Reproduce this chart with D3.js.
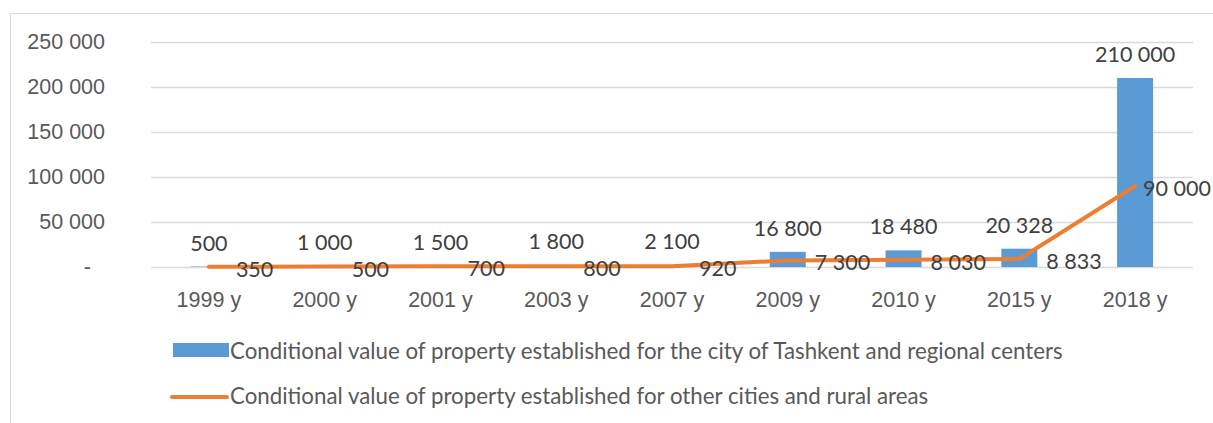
<!DOCTYPE html>
<html lang="en">
<head>
<meta charset="UTF-8">
<title>Conditional value of property</title>
<style>
    body { margin: 0; background: #fff; }
    svg { display: block; font-family: Lato, "Open Sans", sans-serif; }
    .grid line { stroke: #d9d9d9; stroke-width: 1.5; }
    .grid path { display: none; }
    .axis text { fill: #595959; font-size: 21.5px; }
    .axis path, .axis line { display: none; }
    .lbl { fill: #404040; font-size: 21.5px; }
    .legend text { fill: #595959; font-size: 22.3px; }
</style>
</head>
<body>
<svg></svg>
<script src="https://d3js.org/d3.v7.min.js"></script>
<script>

const years = ['1999 y', '2000 y', '2001 y', '2003 y', '2007 y', '2009 y', '2010 y', '2015 y', '2018 y'];
const tashkent = [500, 1000, 1500, 1800, 2100, 16800, 18480, 20328, 210000];
const otherCities = [350, 500, 700, 800, 920, 7300, 8030, 8833, 90000];
const yTicks = [0, 50000, 100000, 150000, 200000, 250000];
const seriesNames = [
    'Conditional value of property established for the city of Tashkent and regional centers',
    'Conditional value of property established for other cities and rural areas'
];

const W = 1213, H = 423;
const svg = d3.select('svg').attr('width', W).attr('height', H);

// chart frame
svg.append('rect')
    .attr('x', 10.5).attr('y', 13.5)
    .attr('width', W).attr('height', H)
    .attr('fill', 'none').attr('stroke', '#d9d9d9');

const plot = { left: 151, right: 1193, top: 42, bottom: 267 };

const x = d3.scaleBand().domain(years).range([plot.left, plot.right]);
const y = d3.scaleLinear().domain([0, 250000]).range([plot.bottom, plot.top]);

const fmt = v => v === 0 ? '-' : d3.format(',')(v).replace(/,/g, ' ');

svg.append('g')
    .attr('class', 'grid')
    .attr('transform', `translate(${plot.left},0)`)
    .call(d3.axisLeft(y).tickValues(yTicks).tickFormat('').tickSize(-(plot.right - plot.left)));

svg.append('g')
    .attr('class', 'axis')
    .attr('transform', `translate(${plot.left},0)`)
    .call(d3.axisLeft(y).tickValues(yTicks).tickFormat(fmt).tickPadding(40))
    .selectAll('text')
    .attr('dx', d => d === 0 ? -14 : 0);

svg.append('g')
    .attr('class', 'axis')
    .attr('transform', `translate(0,${plot.bottom})`)
    .call(d3.axisBottom(x).tickSizeOuter(0).tickPadding(19));

const barW = 36;
const cx = d => x(d) + x.bandwidth() / 2;

svg.selectAll('.bar')
    .data(tashkent)
    .join('rect')
    .attr('class', 'bar')
    .attr('x', (d, i) => cx(years[i]) - barW / 2)
    .attr('y', d => y(d))
    .attr('width', barW)
    .attr('height', d => y(0) - y(d))
    .attr('fill', '#5b9bd5');

const line = d3.line()
    .x((d, i) => cx(years[i]))
    .y(d => y(d));

svg.append('path')
    .datum(otherCities)
    .attr('d', line)
    .attr('fill', 'none')
    .attr('stroke', '#ed7d31')
    .attr('stroke-width', 4)
    .attr('stroke-linecap', 'round')
    .attr('stroke-linejoin', 'round');

// bar labels
svg.selectAll('.barLbl')
    .data(tashkent)
    .join('text')
    .attr('class', 'lbl')
    .attr('x', (d, i) => cx(years[i]))
    .attr('y', d => y(d) - 16)
    .attr('text-anchor', 'middle')
    .text(fmt);

// line labels
svg.selectAll('.lineLbl')
    .data(otherCities)
    .join('text')
    .attr('class', 'lbl')
    .attr('x', (d, i) => cx(years[i]) + (i === otherCities.length - 1 ? 8 : 27))
    .attr('y', d => y(d) + 10)
    .text(fmt);

// legend
const lg = svg.append('g').attr('class', 'legend');
lg.append('rect')
    .attr('x', 173).attr('y', 343).attr('width', 56).attr('height', 14)
    .attr('fill', '#5b9bd5');
lg.append('line')
    .attr('x1', 172).attr('x2', 227).attr('y1', 397).attr('y2', 397)
    .attr('stroke', '#ed7d31').attr('stroke-width', 4).attr('stroke-linecap', 'round');
lg.selectAll('text')
    .data(seriesNames)
    .join('text')
    .attr('x', 230)
    .attr('y', (d, i) => 359 + i * 45)
    .text(d => d);

</script>
</body>
</html>
